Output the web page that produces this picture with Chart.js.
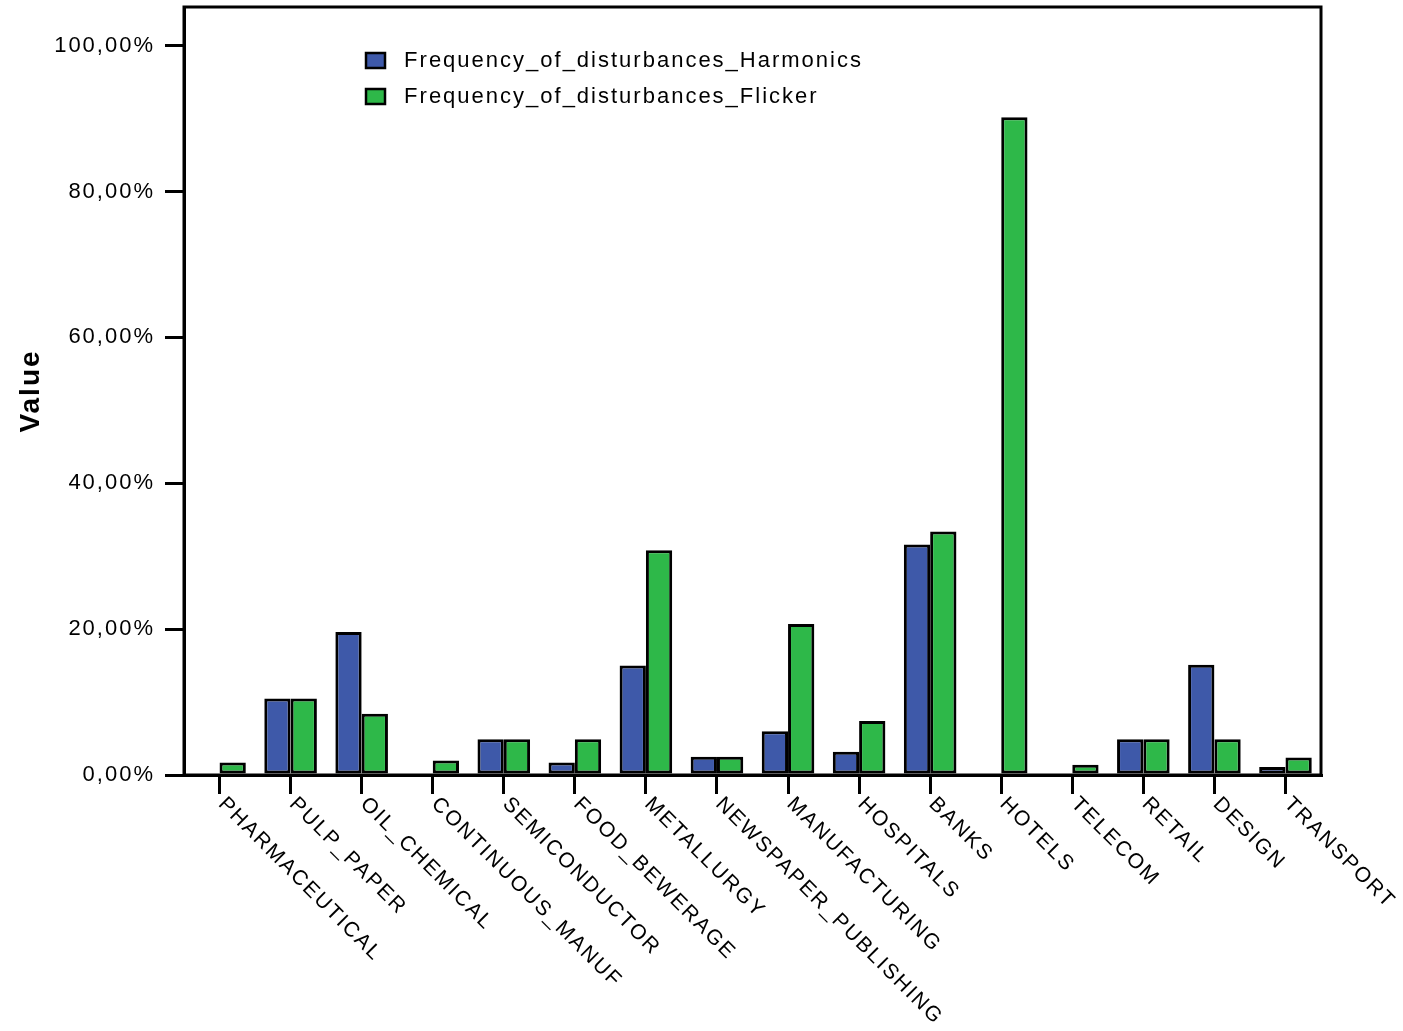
<!DOCTYPE html>
<html>
<head>
<meta charset="utf-8">
<script src="https://cdn.jsdelivr.net/npm/chart.js@4.4.1/dist/chart.umd.min.js"></script>
<style>
html,body{margin:0;padding:0;background:#fff;}
canvas{display:block;}
</style>
</head>
<body>
<canvas id="c" width="1403" height="1031" style="width:1403px;height:1031px"></canvas>
<script>
const categories = ['PHARMACEUTICAL','PULP_PAPER','OIL_CHEMICAL','CONTINUOUS_MANUF','SEMICONDUCTOR','FOOD_BEWERAGE','METALLURGY','NEWSPAPER_PUBLISHING','MANUFACTURING','HOSPITALS','BANKS','HOTELS','TELECOM','RETAIL','DESIGN','TRANSPORT'];
const harmonics = [0, 10.5, 19.6, 0, 4.9, 1.7, 15.0, 2.5, 6.0, 3.2, 31.6, 0, 0, 4.9, 15.1, 1.1];
const flicker   = [1.7, 10.5, 8.4, 2.0, 4.9, 4.9, 30.8, 2.5, 20.7, 7.4, 33.4, 90.2, 1.4, 4.9, 4.9, 2.4];
const seriesNames = ['Frequency_of_disturbances_Harmonics','Frequency_of_disturbances_Flicker'];
const yTicks = [0, 20, 40, 60, 80, 100];

const FONT = '"Liberation Sans", Arial, Helvetica, sans-serif';
Chart.defaults.font.family = FONT;
Chart.defaults.color = '#000';

const spacingPlugin = {
  id: 'spacing',
  afterInit(chart){ chart.ctx.letterSpacing = '2px'; },
  beforeUpdate(chart){ chart.ctx.letterSpacing = '2px'; },
  beforeLayout(chart){ chart.ctx.letterSpacing = '2px'; },
  beforeDraw(chart){ chart.ctx.letterSpacing = '2px'; }
};

const legendPlace = {
  id: 'legendPlace',
  afterLayout(chart){
    const lg = chart.legend, ca = chart.chartArea;
    const w = lg.width, h = lg.height;
    lg.left = ca.left + 168;
    lg.top = ca.top + 28.5;
    lg.right = lg.left + w;
    lg.bottom = lg.top + h;
  }
};

const frameAndLabels = {
  id: 'frameAndLabels',
  afterDraw(chart){
    const ctx = chart.ctx, ca = chart.chartArea, xs = chart.scales.x;
    ctx.save();
    ctx.strokeStyle = '#000';
    ctx.lineWidth = 3;
    ctx.strokeRect(ca.left, ca.top, ca.right - ca.left, ca.bottom - ca.top);
    ctx.letterSpacing = '2px';
    ctx.font = '21px ' + FONT;
    ctx.fillStyle = '#000';
    ctx.textAlign = 'left';
    ctx.textBaseline = 'middle';
    categories.forEach((c, i) => {
      const x = xs.getPixelForTick(i);
      const y = xs.top + 19;
      ctx.save();
      ctx.translate(x + 2, y + 7);
      ctx.rotate(Math.PI / 4);
      ctx.fillText(c, 0, 0);
      ctx.restore();
    });
    ctx.restore();
  }
};

new Chart(document.getElementById('c'), {
  type: 'bar',
  data: {
    labels: categories,
    datasets: [
      { label: seriesNames[0], data: harmonics, backgroundColor: '#3E59A9', borderColor: '#000', borderWidth: 3, borderSkipped: false },
      { label: seriesNames[1], data: flicker, backgroundColor: '#2EB849', borderColor: '#000', borderWidth: 3, borderSkipped: false }
    ]
  },
  options: {
    responsive: false,
    animation: false,
    devicePixelRatio: 1,
    categoryPercentage: 0.74,
    barPercentage: 1.0,
    layout: { padding: { top: 7, right: 82, left: 0, bottom: 0 } },
    plugins: {
      legend: {
        position: 'chartArea',
        align: 'start',
        labels: {
          boxWidth: 19,
          boxHeight: 15,
          padding: 14,
          color: '#000',
          font: { size: 22 },
          generateLabels(chart){
            const items = Chart.defaults.plugins.legend.labels.generateLabels(chart);
            items.forEach(it => { it.text = ' ' + it.text; it.lineWidth = 2.5; });
            return items;
          }
        }
      },
      tooltip: { enabled: false }
    },
    scales: {
      x: {
        offset: true,
        grid: { display: true, drawOnChartArea: false, drawTicks: true, tickLength: 19, tickWidth: 3, tickColor: '#000', color: '#000', lineWidth: 3, offset: false },
        border: { display: true, color: '#000', width: 3 },
        ticks: { display: false },
        afterFit(s){ s.height = 256; s.paddingLeft = 0; s.paddingRight = 0; }
      },
      y: {
        min: 0,
        max: 105.3,
        afterBuildTicks(s){ s.ticks = yTicks.map(v => ({ value: v })); },
        grid: { display: true, drawOnChartArea: false, drawTicks: true, tickLength: 19, tickWidth: 3, tickColor: '#000', color: '#000', lineWidth: 3 },
        border: { display: true, color: '#000', width: 3 },
        ticks: {
          padding: 10,
          color: '#000',
          font: { size: 22 },
          callback: v => v.toFixed(2).replace('.', ',') + '%'
        },
        title: { display: true, text: 'Value', color: '#000', font: { size: 28, weight: 'bold' }, padding: { top: 14, bottom: 0 } },
        afterFit(s){ s.width = 184; s.paddingTop = 0; s.paddingBottom = 0; }
      }
    }
  },
  plugins: [spacingPlugin, legendPlace, frameAndLabels]
});
</script>
</body>
</html>
